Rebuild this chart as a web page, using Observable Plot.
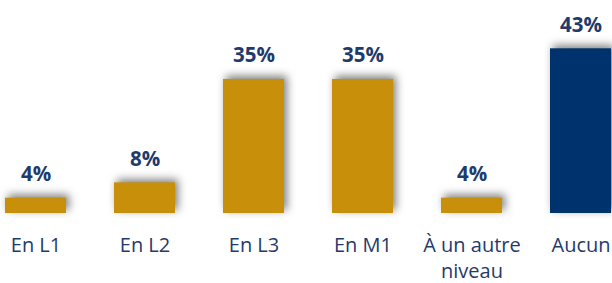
<!DOCTYPE html>
<html>
<head>
<meta charset="utf-8">
<script src="https://cdn.jsdelivr.net/npm/d3@7"></script>
<script src="https://cdn.jsdelivr.net/npm/@observablehq/plot@0.6"></script>
<style>
  html, body { margin: 0; padding: 0; background: #fff; overflow: hidden; }
  #chart svg { display: block; }
</style>
</head>
<body>
<div id="chart"></div>
<script>
const categories = ["En L1", "En L2", "En L3", "En M1", "À un autre niveau", "Aucun"];
const tickLabels = ["En L1", "En L2", "En L3", "En M1", "À un autre\nniveau", "Aucun"];
const values = [4, 8, 35, 35, 4, 43];
const highlighted = ["Aucun"];

const GOLD = "#C78F0A";
const NAVY = "#00336E";
const TEXT = "#1F3A6B";

const data = categories.map((c, i) => ({cat: c, label: tickLabels[i], value: values[i]}));

const chart = Plot.plot({
  width: 612,
  height: 283,
  style: {background: "white", overflow: "hidden"},
  x: {domain: categories, range: [-18.5, 635.5], paddingInner: 0.44, paddingOuter: 0.22, axis: null},
  y: {domain: [0, 50], range: [213, 21.5], axis: null},
  marks: [
    Plot.barY(data, {
      x: "cat", y: "value",
      fill: d => highlighted.includes(d.cat) ? NAVY : GOLD
    }),
    Plot.text(data, {
      x: "cat", y: "value", text: d => d.value + "%",
      dy: -17, lineAnchor: "bottom",
      fill: TEXT, fontSize: 20.5, fontWeight: 700, fontFamily: "Open Sans"
    }),
    Plot.text(data, {
      x: "cat", y: 0, text: "label",
      dy: 21, lineAnchor: "top", lineHeight: 1.26,
      fill: TEXT, fontSize: 20, fontFamily: "Open Sans"
    })
  ]
});

d3.select(chart).selectAll("[aria-label='bar'] rect")
  .style("filter", "drop-shadow(3px -3px 4px rgba(0,0,0,0.5))");

document.getElementById("chart").appendChild(chart);
</script>
</body>
</html>
